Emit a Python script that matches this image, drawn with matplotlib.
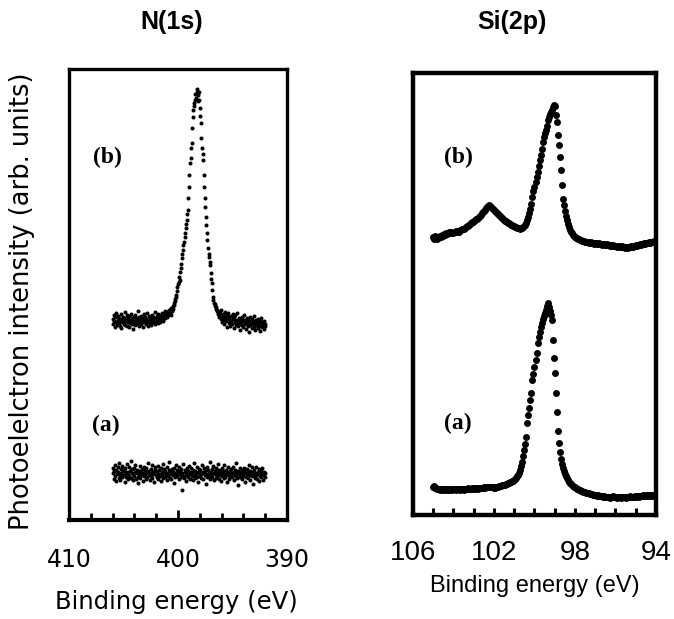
import numpy as np
import matplotlib
matplotlib.use('Agg')
import matplotlib.pyplot as plt

# N(1s) spectra, 406 -> 392 eV, 0.05 eV steps (arb. units)
n1s_range = (406.0, 392.0)
n1s_a = [
    47, 52, 41, 49, 55, 44, 50, 39, 46, 53, 48, 42, 57, 45, 40, 51, 47, 54, 43, 49,
    45, 50, 38, 52, 47, 43, 56, 48, 41, 46, 53, 44, 49, 59, 42, 47, 51, 40, 46, 52,
    44, 48, 55, 41, 47, 50, 43, 37, 49, 46, 54, 42, 48, 45, 51, 39, 47, 53, 44, 50,
    46, 41, 52, 48, 43, 57, 45, 49, 40, 47, 51, 44, 55, 42, 48, 46, 38, 50, 53, 45,
    49, 43, 47, 54, 41, 46, 50, 44, 52, 39, 48, 45, 56, 42, 47, 51, 43, 49, 46, 40,
    53, 47, 44, 50, 58, 42, 46, 49, 41, 51, 45, 48, 37, 52, 47, 43, 55, 46, 50, 44,
    48, 41, 53, 46, 49, 43, 51, 30, 47, 44, 56, 42, 48, 50, 45, 39, 52, 47, 43, 49,
    46, 54, 41, 48, 52, 44, 47, 40, 50, 57, 45, 42, 49, 46, 53, 43, 48, 38, 51, 47,
    44, 50, 46, 42, 55, 48, 41, 47, 52, 45, 49, 36, 46, 53, 43, 50, 47, 44, 58, 41,
    48, 45, 51, 43, 47, 54, 40, 49, 46, 42, 52, 48, 44, 56, 47, 41, 50, 45, 39, 48,
    52, 44, 47, 49, 42, 55, 46, 43, 50, 38, 48, 45, 53, 47, 41, 49, 44, 51, 46, 43,
    47, 53, 40, 48, 45, 50, 44, 57, 42, 47, 49, 35, 46, 52, 43, 48, 45, 41, 50, 46,
    44, 49, 52, 38, 47, 43, 51, 46, 48, 42, 55, 45, 40, 49, 47, 53, 44, 36, 48, 45,
    50, 42, 47, 45, 53, 41, 48, 46, 39, 51, 44, 47, 43, 49, 45, 52, 40, 46, 48, 43,
    47,
]
n1s_b = [
    # background, high energy side
    201, 196, 205, 199, 193, 203, 198, 207, 195, 200, 204, 197, 202, 194, 199, 206, 192, 201, 198, 203,
    196, 200, 208, 195, 199, 202, 194, 205, 198, 201, 193, 204, 197, 200, 206, 196, 202, 199, 191, 203,
    198, 205, 195, 200, 202, 197, 209, 199, 194, 203, 198, 201, 196, 204, 200, 193, 202, 198, 206, 199,
    203, 196, 201, 198, 207, 194, 200, 204, 197, 202, 199, 195, 205, 201, 198, 203, 200, 208, 196, 202,
    199, 204, 201, 197, 206, 200, 203, 198, 205, 202, 200, 207, 203, 199, 206, 204, 209, 202, 205, 208,
    203, 207, 205, 210, 206,
    # peak
    207, 210, 205, 212, 209, 214, 211, 217, 215, 221, 219, 225, 223, 229, 233, 236, 238, 243, 240, 248,
    252, 256, 262, 266, 270, 275, 278, 283, 287, 292, 296, 300, 306, 310, 322, 333, 345, 357, 362, 372,
    377, 392, 403, 410, 414, 417, 420, 426, 422, 431, 428, 425, 419, 428, 420, 412, 404, 397, 382, 372,
    366, 360, 345, 333, 322, 313, 303, 295, 287, 280, 272, 266, 263, 258, 255, 247, 241, 237, 230, 223,
    220, 217, 214, 216, 211, 213, 209, 210, 206, 208, 203, 205,
    # background, low energy side
    207, 201, 210, 203, 198, 206, 200, 204, 196, 208, 202, 199, 205, 193, 201, 207, 197, 203, 200, 194,
    204, 199, 196, 206, 201, 192, 203, 198, 205, 195, 200, 197, 207, 194, 199, 202, 196, 190, 201, 198,
    195, 203, 199, 193, 200, 205, 196, 198, 191, 202, 197, 194, 200, 188, 199, 203, 195, 197, 192, 201,
    196, 199, 193, 204, 197, 190, 200, 195, 198, 192, 201, 196, 194, 199, 189, 197, 202, 193, 198, 195,
    199, 191, 196, 194,
]

# Si(2p) spectra, 105 -> 94 eV, 0.05 eV steps (arb. units)
si2p_range = (105.0, 94.0)
si2p_a = [
    28, 29, 27, 27, 26, 26, 26, 25, 26, 26, 25, 26, 25, 26, 26, 25, 25, 26, 26, 25,
    26, 26, 25, 26, 26, 26, 25, 26, 26, 26, 25, 26, 26, 26, 27, 26, 26, 26, 27, 26,
    27, 26, 27, 27, 26, 27, 27, 27, 27, 27, 28, 27, 28, 28, 28, 28, 28, 28, 28, 28,
    27, 27, 28, 28, 28, 29, 29, 29, 30, 30, 30, 30, 31, 31, 32, 32, 33, 33, 34, 34,
    35, 36, 37, 39, 40, 42, 45, 49, 53, 59, 65, 71, 78, 92, 100, 107, 115, 122, 135, 141,
    148, 155, 162, 172, 178, 183, 188, 192, 196, 199, 202, 205, 209, 212, 208, 204, 200, 195, 175, 157,
    142, 122, 103, 84, 72, 63, 56, 51, 47, 44, 41, 39, 37, 35, 33, 32, 31, 30, 29, 28,
    28, 27, 26, 26, 25, 25, 24, 24, 23, 23, 23, 22, 22, 22, 22, 21, 21, 21, 20, 20,
    20, 20, 19, 20, 19, 19, 19, 19, 18, 19, 18, 18, 18, 18, 18, 17, 18, 18, 19, 18,
    18, 17, 18, 18, 18, 17, 18, 18, 18, 18, 17, 18, 18, 18, 19, 18, 18, 18, 18, 19,
    18, 19, 19, 18, 19, 19, 19, 20, 19, 19, 20, 19, 20, 20, 19, 20, 20, 19, 20, 20,
    19,
]
si2p_b = [
    278, 276, 279, 277, 276, 277, 278, 279, 278, 280, 279, 281, 280, 282, 281, 282, 283, 282, 283, 282,
    282, 283, 284, 283, 284, 283, 285, 285, 286, 286, 286, 287, 288, 289, 289, 290, 291, 292, 293, 293,
    294, 295, 296, 296, 297, 298, 299, 300, 302, 303, 304, 305, 307, 308, 309, 310, 309, 308, 307, 306,
    305, 304, 303, 302, 301, 300, 299, 298, 297, 296, 295, 294, 294, 293, 292, 292, 291, 290, 290, 289,
    289, 288, 288, 287, 287, 287, 286, 287, 287, 288, 289, 290, 292, 295, 298, 302, 306, 311, 318, 324,
    328, 333, 338, 343, 349, 355, 360, 366, 373, 378, 382, 385, 389, 395, 398, 401, 403, 405, 408, 410,
    409, 400, 393, 380, 370, 358, 345, 330, 316, 310, 304, 299, 295, 291, 288, 285, 283, 282, 280, 279,
    278, 277, 277, 276, 276, 275, 275, 274, 274, 274, 273, 273, 273, 273, 272, 272, 273, 272, 272, 271,
    272, 272, 271, 271, 272, 271, 271, 270, 271, 271, 270, 270, 271, 270, 270, 269, 270, 269, 270, 269,
    269, 268, 269, 269, 268, 268, 269, 268, 268, 267, 268, 268, 267, 268, 268, 269, 268, 268, 269, 269,
    270, 269, 270, 270, 271, 270, 271, 271, 272, 271, 272, 272, 272, 273, 272, 273, 273, 273, 274, 273,
    273,
]

n1s_x = np.linspace(n1s_range[0], n1s_range[1], len(n1s_b))
n1s_xa = np.linspace(n1s_range[0], n1s_range[1], len(n1s_a))
si_x = np.linspace(si2p_range[0], si2p_range[1], len(si2p_b))
si_xa = np.linspace(si2p_range[0], si2p_range[1], len(si2p_a))

W, H = 674, 619
fig = plt.figure(figsize=(W / 100, H / 100), dpi=100)

def frac(l, t, r, b):
    return [l / W, 1 - b / H, (r - l) / W, (b - t) / H]

sans = 'DejaVu Sans'
narrow = ['Liberation Sans Narrow', 'Liberation Sans', 'DejaVu Sans']

# left panel: N(1s)
ax1 = fig.add_axes(frac(69, 69, 287, 520))
ax1.plot(n1s_xa, n1s_a, 'o', color='black', ms=2.9, mew=0)
ax1.plot(n1s_x, n1s_b, 'o', color='black', ms=2.9, mew=0)
ax1.set_xlim(410, 390)
ax1.set_ylim(0, 451)
ax1.set_xticks([410, 400, 390])
ax1.set_xticks(np.arange(392, 409, 2), minor=True)
ax1.tick_params(which='both', direction='in', left=False, labelleft=False,
                width=2, pad=20, labelsize=17)
ax1.tick_params(which='major', length=7)
ax1.tick_params(which='minor', length=5)
for s in ax1.spines.values():
    s.set_linewidth(2.4)
ax1.spines['bottom'].set_linewidth(3)
for lab in ax1.get_xticklabels():
    lab.set_family(sans)

# right panel: Si(2p)
ax2 = fig.add_axes(frac(413, 73, 656, 515))
ax2.plot(si_xa, si2p_a, 'o', color='black', ms=5.0, mew=0)
ax2.plot(si_x, si2p_b, 'o', color='black', ms=5.0, mew=0)
ax2.set_xlim(106, 94)
ax2.set_ylim(0, 442)
ax2.set_xticks([106, 102, 98, 94])
ax2.set_xticks(np.arange(95, 106, 1), minor=True)
ax2.tick_params(which='both', direction='in', left=False, labelleft=False,
                width=2.2, length=5, pad=18, labelsize=20)
for s in ax2.spines.values():
    s.set_linewidth(3.2)
for lab in ax2.get_xticklabels():
    lab.set_family(narrow)

# titles
title = dict(fontsize=18, fontweight='bold', family='Liberation Sans', ha='center', va='center')
fig.text(172 / W, 1 - 22 / H, 'N(1s)', **title)
fig.text(512 / W, 1 - 22 / H, 'Si(2p)', **title)

# axis labels
fig.text(176 / W, 1 - 602 / H, 'Binding energy (eV)', ha='center', va='center',
         fontsize=17.5, family=sans)
fig.text(535 / W, 1 - 586 / H, 'Binding energy (eV)', ha='center', va='center',
         fontsize=17, family=narrow)
fig.text(22 / W, 1 - 301 / H, 'Photoelelctron intensity (arb. units)', ha='center',
         va='center', rotation=90, fontsize=18.5, family=sans)

# curve labels
serif = dict(fontsize=17, fontweight='bold', family='Liberation Serif', ha='center', va='center')
fig.text(107 / W, 1 - 157 / H, '(b)', **serif)
fig.text(106 / W, 1 - 425 / H, '(a)', **serif)
fig.text(458 / W, 1 - 157 / H, '(b)', **serif)
fig.text(458 / W, 1 - 423 / H, '(a)', **serif)

fig.savefig('out.png', dpi=100)
